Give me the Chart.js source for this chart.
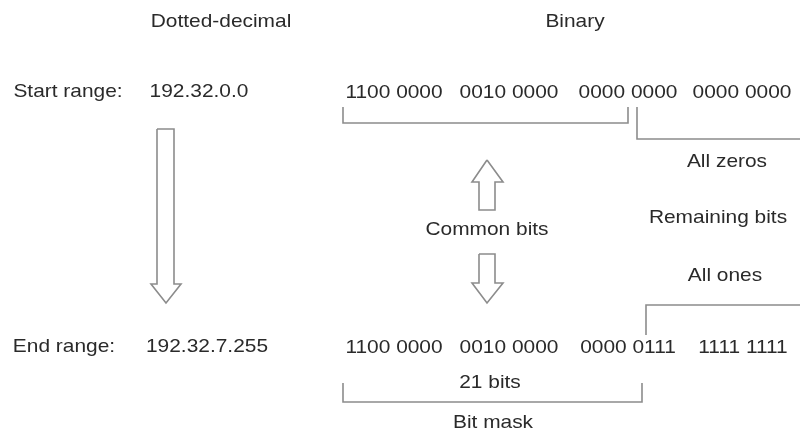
<!DOCTYPE html>
<html>
<head>
<meta charset="utf-8">
<script src="https://cdn.jsdelivr.net/npm/chart.js@4/dist/chart.umd.min.js"></script>
<style>
  html, body { margin: 0; padding: 0; background: #fff; }
  #wrap { width: 800px; height: 435px; }
</style>
</head>
<body>
<div id="wrap"><canvas id="diagram" width="800" height="435"></canvas></div>
<script>

// texts of the diagram
headings = ["Dotted-decimal", "Binary"]
rowNames = ["Start range:", "End range:"]
dotted = ["192.32.0.0", "192.32.7.255"]
startBits = ["1100 0000", "0010 0000", "0000 0000", "0000 0000"]
endBits = ["1100 0000", "0010 0000", "0000 0111", "1111 1111"]
notes = ["All zeros", "Common bits", "Remaining bits", "All ones", "21 bits", "Bit mask"]

// where each text sits (diagram units, centre of text)
headingAt = [[221, 22], [575, 22]]
rowNameAt = [[68, 92], [64, 347]]
dottedAt = [[199, 92], [207, 347]]
startBitsX = [394, 509, 628, 742]
endBitsX = [394, 509, 628, 743]
bitsRowY = [93, 348]
notesAt = [[727, 162], [487, 230], [718, 218], [725, 276], [490, 383], [493, 423]]

// bracket lines
commonBracket = [[343, 107], [343, 123], [628, 123], [628, 107]]
zerosBracket = [[637, 107], [637, 139], [800, 139]]
onesBracket = [[646, 335], [646, 305], [800, 305]]
maskBracket = [[343, 383], [343, 402], [642, 402], [642, 383]]

// hollow arrows (outlines)
bigArrow = [[157, 129], [174, 129], [174, 284], [181, 284], [166, 303], [151, 284], [157, 284], [157, 129]]
upArrow = [[487, 160], [503, 182], [495, 182], [495, 210], [479, 210], [479, 182], [472, 182], [487, 160]]
downArrow = [[479, 254], [495, 254], [495, 283], [503, 283], [487, 303], [472, 283], [479, 283], [479, 254]]

function pts(list) {
    return list.map(p => ({x: p[0], y: p[1]}))
}

var shapes = [commonBracket, zerosBracket, onesBracket, maskBracket, bigArrow, upArrow, downArrow]

var datasets = []
for (var i = 0; i < shapes.length; i++) {
    datasets.push({
        data: pts(shapes[i]),
        showLine: true,
        borderColor: "#8c8c8c",
        borderWidth: 1.6,
        pointRadius: 0,
        fill: false,
        tension: 0,
        clip: false
    })
}

// every text goes through the scales
var textPlugin = {
    id: "diagramText",
    afterDatasetsDraw(chart) {
        var ctx = chart.ctx
        var xs = chart.scales.x
        var ys = chart.scales.y

        var items = []
        headings.forEach((t, i) => items.push([t, headingAt[i][0], headingAt[i][1]]))
        rowNames.forEach((t, i) => items.push([t, rowNameAt[i][0], rowNameAt[i][1]]))
        dotted.forEach((t, i) => items.push([t, dottedAt[i][0], dottedAt[i][1]]))
        startBits.forEach((t, i) => items.push([t, startBitsX[i], bitsRowY[0]]))
        endBits.forEach((t, i) => items.push([t, endBitsX[i], bitsRowY[1]]))
        notes.forEach((t, i) => items.push([t, notesAt[i][0], notesAt[i][1]]))

        ctx.save()
        ctx.fillStyle = "#2a2a2a"
        ctx.font = "19px 'Liberation Sans', Arial, sans-serif"
        ctx.textAlign = "center"
        ctx.textBaseline = "middle"
        items.forEach(it => {
            ctx.save()
            ctx.translate(xs.getPixelForValue(it[1]), ys.getPixelForValue(it[2]))
            ctx.scale(1.1, 1)
            ctx.fillText(it[0], 0, 0)
            ctx.restore()
        })
        ctx.restore()
    }
}

const diagram = new Chart("diagram", {
    type: "scatter",
    data: { datasets: datasets },
    options: {
        responsive: false,
        animation: false,
        layout: { padding: 0 },
        plugins: {
            legend: { display: false },
            tooltip: { enabled: false }
        },
        scales: {
            x: { type: "linear", min: 0, max: 800, display: false },
            y: { type: "linear", min: 0, max: 435, reverse: true, display: false }
        }
    },
    plugins: [textPlugin]
});
</script>
</body>
</html>
